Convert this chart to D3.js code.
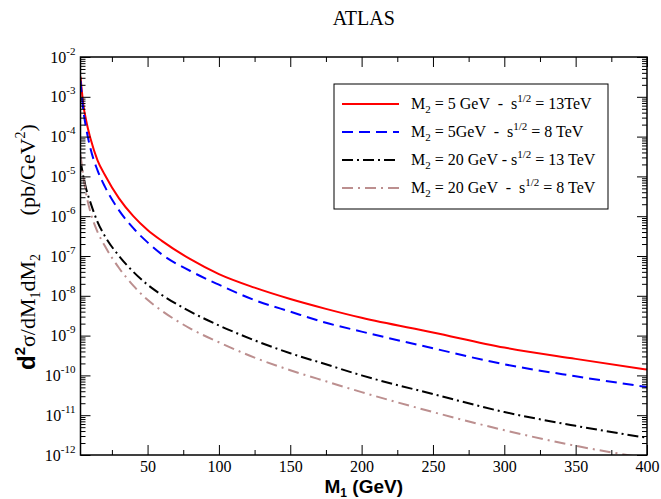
<!DOCTYPE html>
<html>
<head>
<meta charset="utf-8">
<script src="https://cdn.jsdelivr.net/npm/d3@7"></script>
<style>
  body { margin: 0; background: #fff; }
  text { white-space: pre; }
</style>
</head>
<body>
<svg id="chart" width="661" height="499"></svg>
<script>
// M1 grid (GeV) and the four cross-section curves (pb/GeV^2)
const m1 = [3, 5, 7, 10, 15, 20, 30, 40, 50, 60, 80, 100, 125, 150, 175, 200, 250, 300, 350, 400]
const m2_5_13TeV = [3.2e-3, 6.3e-4, 2.5e-4, 8.9e-5, 2.5e-5, 1.1e-5, 2.8e-6, 1.0e-6, 4.5e-7, 2.4e-7,
  8.3e-8, 3.5e-8, 1.6e-8, 8.3e-9, 4.7e-9, 2.8e-9, 1.2e-9, 5.0e-10, 2.6e-10, 1.4e-10]
const m2_5_8TeV = [2.5e-3, 4.5e-4, 1.6e-4, 5.0e-5, 1.4e-5, 5.6e-6, 1.4e-6, 5.0e-7, 2.2e-7, 1.1e-7,
  4.2e-8, 1.9e-8, 7.8e-9, 4.0e-9, 2.1e-9, 1.26e-9, 4.8e-10, 1.9e-10, 9.5e-11, 5.1e-11]
const m2_20_13TeV = [2.5e-5, 1.0e-5, 4.8e-6, 2.2e-6, 7.1e-7, 3.2e-7, 1.0e-7, 4.0e-8, 1.9e-8, 1.05e-8,
  4.0e-9, 1.8e-9, 7.6e-10, 3.6e-10, 1.9e-10, 1.0e-10, 3.4e-11, 1.2e-11, 5.4e-12, 2.7e-12]
const m2_20_8TeV = [3.5e-5, 1.0e-5, 3.6e-6, 1.26e-6, 4.0e-7, 1.8e-7, 5.0e-8, 1.8e-8, 7.9e-9, 4.2e-9,
  1.5e-9, 6.8e-10, 2.8e-10, 1.35e-10, 7.1e-11, 3.8e-11, 1.2e-11, 4.2e-12, 1.7e-12, 8.3e-13]

const legendM2 = ["5 GeV  -  ", "5GeV  -  ", "20 GeV - ", "20 GeV  -  "]
const legendRootS = [" = 13TeV", " = 8 TeV", " = 13 TeV", " = 8 TeV"]

const xMajor = [50, 100, 150, 200, 250, 300, 350, 400]
const xMinor = [25, 75, 125, 175, 225, 275, 325, 375]
const yExponents = [-12, -11, -10, -9, -8, -7, -6, -5, -4, -3, -2]

const width = 661, height = 499
const margin = { top: 57, right: 14, bottom: 44, left: 80.5 }

const series = [
  { values: m2_5_13TeV, color: "#ff0000", dash: null },
  { values: m2_5_8TeV, color: "#0000ff", dash: "11,6" },
  { values: m2_20_13TeV, color: "#000000", dash: "11,4,2,4" },
  { values: m2_20_8TeV, color: "#bc8f8f", dash: "11,5,2,5" }
]

const svg = d3.select("#chart")
svg.append("rect").attr("width", width).attr("height", height).attr("fill", "#fff")

const x = d3.scaleLinear()
  .domain([3, 400])
  .range([margin.left, width - margin.right])
const y = d3.scaleLog()
  .domain([1e-12, 1e-2])
  .range([height - margin.bottom, margin.top])

const yMajor = yExponents.map(e => Math.pow(10, e))
const yMinor = []
yExponents.slice(0, -1).forEach(e => {
  for (let k = 2; k <= 9; k++) yMinor.push(k * Math.pow(10, e))
})

const plotBottom = height - margin.bottom
const plotTop = margin.top
const plotLeft = margin.left
const plotRight = width - margin.right

// clip for the curves
svg.append("clipPath").attr("id", "plot-clip")
  .append("rect")
  .attr("x", plotLeft).attr("y", plotTop)
  .attr("width", plotRight - plotLeft)
  .attr("height", plotBottom - plotTop)

const line = d3.line()
  .x((d, i) => x(m1[i]))
  .y(d => y(d))
  .curve(d3.curveMonotoneX)

svg.append("g")
  .attr("clip-path", "url(#plot-clip)")
  .selectAll("path")
  .data(series)
  .join("path")
  .attr("d", d => line(d.values))
  .attr("fill", "none")
  .attr("stroke", d => d.color)
  .attr("stroke-width", 2)
  .attr("stroke-dasharray", d => d.dash)

// axes: ticks point inward on all four sides
const styleAxis = g => {
  g.select(".domain").remove()
  g.selectAll("line").attr("stroke", "#000").attr("stroke-width", 1)
}

svg.append("g").attr("transform", `translate(0,${plotBottom})`)
  .call(d3.axisBottom(x).tickValues(xMinor).tickSize(-5).tickFormat(""))
  .call(styleAxis)
svg.append("g").attr("transform", `translate(0,${plotBottom})`)
  .call(d3.axisBottom(x).tickValues(xMajor).tickSize(-10).tickPadding(5.5))
  .call(styleAxis)
  .call(g => g.selectAll("text")
    .attr("font-family", "'Liberation Serif', 'Times New Roman', serif")
    .attr("font-size", 16).attr("fill", "#000"))

svg.append("g").attr("transform", `translate(0,${plotTop})`)
  .call(d3.axisTop(x).tickValues(xMinor).tickSize(-5).tickFormat(""))
  .call(styleAxis)
svg.append("g").attr("transform", `translate(0,${plotTop})`)
  .call(d3.axisTop(x).tickValues(xMajor).tickSize(-10).tickFormat(""))
  .call(styleAxis)

svg.append("g").attr("transform", `translate(${plotLeft},0)`)
  .call(d3.axisLeft(y).tickValues(yMinor).tickSize(-5).tickFormat(""))
  .call(styleAxis)
const yAxisG = svg.append("g").attr("transform", `translate(${plotLeft},0)`)
  .call(d3.axisLeft(y).tickValues(yMajor).tickSize(-10).tickFormat(""))
  .call(styleAxis)

svg.append("g").attr("transform", `translate(${plotRight},0)`)
  .call(d3.axisRight(y).tickValues(yMinor).tickSize(-5).tickFormat(""))
  .call(styleAxis)
svg.append("g").attr("transform", `translate(${plotRight},0)`)
  .call(d3.axisRight(y).tickValues(yMajor).tickSize(-10).tickFormat(""))
  .call(styleAxis)

// y tick labels 10^n
yAxisG.selectAll(".tick").each(function (d) {
  const t = d3.select(this).append("text")
    .attr("x", -5).attr("y", 5)
    .attr("text-anchor", "end")
    .attr("fill", "#000")
    .attr("font-family", "'Liberation Serif', 'Times New Roman', serif")
    .attr("font-size", 16)
  t.append("tspan").text("10")
  t.append("tspan").attr("font-size", 11).attr("dy", -8)
    .text(Math.round(Math.log10(d)))
})

// frame
svg.append("rect")
  .attr("x", plotLeft).attr("y", plotTop)
  .attr("width", plotRight - plotLeft).attr("height", plotBottom - plotTop)
  .attr("fill", "none").attr("stroke", "#000").attr("stroke-width", 1.5)

// title
svg.append("text")
  .attr("x", (plotLeft + plotRight) / 2).attr("y", 25)
  .attr("text-anchor", "middle")
  .attr("font-family", "'Liberation Serif', 'Times New Roman', serif")
  .attr("font-size", 20)
  .text("ATLAS")

// x title
const xt = svg.append("text")
  .attr("x", (plotLeft + plotRight) / 2).attr("y", 493)
  .attr("text-anchor", "middle")
  .attr("font-family", "'Liberation Sans', Arial, sans-serif")
  .attr("font-weight", "bold")
  .attr("font-size", 19)
xt.append("tspan").text("M")
xt.append("tspan").attr("font-size", 12).attr("dy", 4).text("1")
xt.append("tspan").attr("dy", -4).text(" (GeV)")

// y title, read bottom to top
const yt = svg.append("text")
  .attr("transform", "translate(35,370) rotate(-90)")
  .attr("text-anchor", "start")
  .attr("font-family", "'Liberation Serif', 'Times New Roman', serif")
  .attr("font-size", 22)
yt.append("tspan").attr("font-family", "'Liberation Sans', Arial, sans-serif")
  .attr("font-weight", "bold").attr("font-size", 24).text("d")
yt.append("tspan").attr("font-family", "'Liberation Sans', Arial, sans-serif")
  .attr("font-weight", "bold").attr("font-size", 15).attr("dy", -10).text("2")
yt.append("tspan").attr("dy", 10).text("σ/dM")
yt.append("tspan").attr("font-size", 14).attr("dy", 5).text("1")
yt.append("tspan").attr("dy", -5).text("dM")
yt.append("tspan").attr("font-size", 14).attr("dy", 5).text("2")
yt.append("tspan").attr("dy", -5).text("       (pb/GeV")
yt.append("tspan").attr("font-size", 14).attr("dy", -10).text("2")
yt.append("tspan").attr("dy", 10).text(")")

// legend
const lg = svg.append("g")
lg.append("rect")
  .attr("x", 334).attr("y", 84).attr("width", 274).attr("height", 125)
  .attr("fill", "#fff").attr("stroke", "#000").attr("stroke-width", 1)

const rows = lg.selectAll("g.row")
  .data(series)
  .join("g")
  .attr("class", "row")
  .attr("transform", (d, i) => `translate(0,${104 + i * 28})`)

rows.append("line")
  .attr("x1", 342).attr("x2", 399)
  .attr("stroke", d => d.color)
  .attr("stroke-width", 2)
  .attr("stroke-dasharray", d => d.dash)

const lt = rows.append("text")
  .attr("x", 411).attr("y", 5)
  .attr("font-family", "'Liberation Serif', 'Times New Roman', serif")
  .attr("font-size", 16)
lt.append("tspan").text("M")
lt.append("tspan").attr("font-size", 11).attr("dy", 4).text("2")
lt.append("tspan").attr("dy", -4).text((d, i) => " = " + legendM2[i] + "s")
lt.append("tspan").attr("font-size", 11).attr("dy", -7).text("1/2")
lt.append("tspan").attr("dy", 7).text((d, i) => legendRootS[i])
</script>
</body>
</html>
